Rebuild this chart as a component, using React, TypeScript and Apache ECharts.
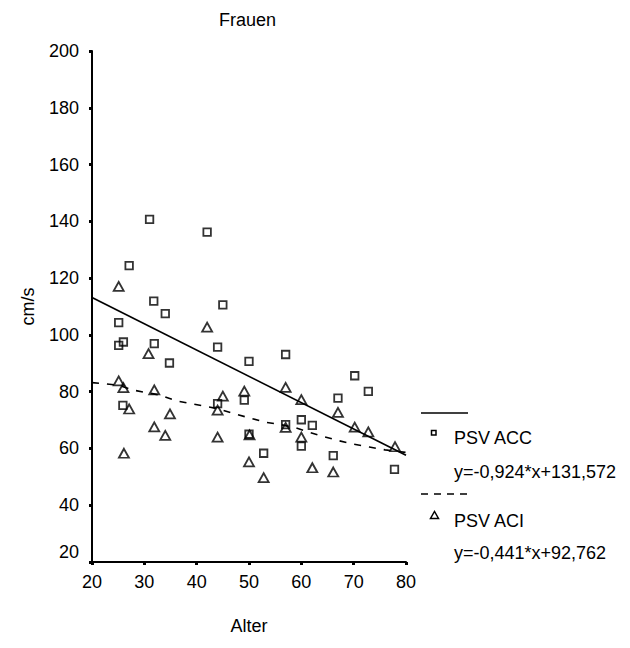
import React, { useEffect, useRef } from "react";
import * as echarts from "echarts";

// PSV ACC (squares)
const accAge = [31, 42, 27.1, 31.8, 45, 34, 25.1, 26, 25.1, 31.9, 44, 34.8, 50, 57, 70.2, 72.8, 67, 25.9, 44, 49.1, 50, 57, 60, 62.1, 60, 52.8, 66.1, 77.8];
const accPsv = [140.7, 136.2, 124.4, 111.9, 110.6, 107.5, 104.3, 97.5, 96.3, 96.9, 95.7, 90.1, 90.7, 93.1, 85.6, 80.1, 77.7, 75.2, 75.8, 77, 65, 68.4, 70.1, 68.1, 60.8, 58.3, 57.5, 52.6];

// PSV ACI (triangles)
const aciAge = [25.1, 42, 30.8, 25.1, 26, 31.9, 45, 49.1, 57, 60, 27.1, 34.9, 44, 31.9, 34, 44, 50.1, 26.1, 50, 52.8, 62.1, 66.1, 67, 70.2, 72.8, 77.9, 57, 60];
const aciPsv = [117.1, 102.7, 93.4, 83.8, 81.4, 80.6, 78.4, 80.2, 81.5, 77.2, 73.9, 72.2, 73.5, 67.6, 64.6, 64, 64.8, 58.3, 55.3, 49.7, 53.2, 51.7, 72.7, 67.5, 65.8, 60.6, 67.4, 64];

// Fit lines
const accFitAge = [20, 80];
const accFitPsv = [113.2, 57.6];
const aciFitAge = [20, 25, 28, 33, 36, 39, 42, 44, 47, 50, 53, 56, 59, 61, 64, 67, 70, 73, 76, 80];
const aciFitPsv = [83.2, 82.3, 80.5, 78.8, 76.8, 75.8, 74.7, 74, 72.3, 70.8, 69.3, 68.4, 67.2, 66, 64.3, 62.8, 61.5, 60.5, 59.5, 58.6];

const seriesNames = ["PSV ACC", "PSV ACI"];
const equations = ["y=-0,924*x+131,572", "y=-0,441*x+92,762"];
const titleText = "Frauen";
const xName = "Alter";
const yName = "cm/s";

const FONT = "'Liberation Sans', Arial, Helvetica, sans-serif";
const FS = 18;

function pairs(xs: number[], ys: number[]) {
  return xs.map((x, i) => [x, ys[i]]);
}

export default function App() {
  const ref = useRef<HTMLDivElement>(null);
  useEffect(() => {
    if (!ref.current) return;
    const chart = echarts.init(ref.current, null, { renderer: "svg" });
    const textStyle = { fontFamily: FONT, fontSize: FS, fill: "#000" };
    chart.setOption({
      animation: false,
      backgroundColor: "#fff",
      textStyle: { fontFamily: FONT, color: "#000" },
      title: {
        text: titleText,
        left: 219,
        top: 11,
        padding: 0,
        textStyle: { fontFamily: FONT, fontSize: FS, fontWeight: "normal", color: "#000" },
      },
      grid: { left: 92, right: 224, top: 51, bottom: 86, containLabel: false },
      xAxis: {
        type: "value",
        min: 20,
        max: 80,
        interval: 10,
        name: xName,
        nameLocation: "middle",
        nameGap: 55,
        nameTextStyle: { fontFamily: FONT, fontSize: FS, color: "#000" },
        axisLine: { onZero: false, lineStyle: { color: "#000", width: 2 } },
        axisTick: { show: true, length: 3, lineStyle: { color: "#000", width: 3 } },
        axisLabel: { color: "#000", fontFamily: FONT, fontSize: FS, margin: 11 },
        splitLine: { show: false },
      },
      yAxis: {
        type: "value",
        min: 20,
        max: 200,
        interval: 20,
        name: yName,
        nameLocation: "middle",
        nameGap: 55,
        nameRotate: 90,
        nameTextStyle: { fontFamily: FONT, fontSize: FS, color: "#000" },
        axisLine: { lineStyle: { color: "#000", width: 2 } },
        axisTick: { show: true, length: 3, lineStyle: { color: "#000", width: 3 } },
        axisLabel: {
          color: "#000",
          fontFamily: FONT,
          fontSize: FS,
          margin: 13,
          formatter: (v: number) => (v === 20 ? "{low|" + v + "}" : String(v)),
          rich: {
            low: { fontFamily: FONT, fontSize: FS, color: "#000", padding: [0, 0, 20, 0] },
          },
        },
        splitLine: { show: false },
      },
      series: [
        {
          name: seriesNames[0],
          type: "scatter",
          data: pairs(accAge, accPsv),
          symbol: "rect",
          symbolSize: 7.5,
          itemStyle: { color: "rgba(255,255,255,0)", borderColor: "#000", borderWidth: 1.8 },
          z: 3,
        },
        {
          name: seriesNames[1],
          type: "scatter",
          data: pairs(aciAge, aciPsv),
          symbol: "triangle",
          symbolSize: [10, 9],
          itemStyle: { color: "rgba(255,255,255,0)", borderColor: "#000", borderWidth: 1.8 },
          z: 3,
        },
        {
          name: "fitACC",
          type: "line",
          data: pairs(accFitAge, accFitPsv),
          showSymbol: false,
          symbol: "none",
          lineStyle: { color: "#000", width: 1.7, type: "solid" },
          z: 2,
        },
        {
          name: "fitACI",
          type: "line",
          data: pairs(aciFitAge, aciFitPsv),
          showSymbol: false,
          symbol: "none",
          lineStyle: { color: "#000", width: 1.6, type: [7, 8] },
          z: 2,
        },
      ],
      graphic: [
        { type: "line", shape: { x1: 421, y1: 413, x2: 468, y2: 413 }, style: { stroke: "#000", lineWidth: 1.7 } },
        { type: "rect", shape: { x: 431.5, y: 430.5, width: 4.5, height: 4.5 }, style: { fill: "none", stroke: "#000", lineWidth: 1.5 } },
        { type: "text", x: 454, y: 438, style: { ...textStyle, text: seriesNames[0], verticalAlign: "middle", align: "left" } },
        { type: "text", x: 454, y: 472, style: { ...textStyle, text: equations[0], verticalAlign: "middle", align: "left" } },
        { type: "line", shape: { x1: 421, y1: 494, x2: 468, y2: 494 }, style: { stroke: "#000", lineWidth: 1.6, lineDash: [7, 6] } },
        { type: "polygon", shape: { points: [[430.5, 518.5], [438.5, 518.5], [434.5, 511.5]] }, style: { fill: "none", stroke: "#000", lineWidth: 1.5 } },
        { type: "text", x: 454, y: 521, style: { ...textStyle, text: seriesNames[1], verticalAlign: "middle", align: "left" } },
        { type: "text", x: 454, y: 553, style: { ...textStyle, text: equations[1], verticalAlign: "middle", align: "left" } },
      ],
    });
    return () => chart.dispose();
  }, []);
  return (
    <div
      ref={ref}
      style={{ position: "fixed", left: 0, top: 0, width: 630, height: 648, background: "#fff" }}
    />
  );
}
